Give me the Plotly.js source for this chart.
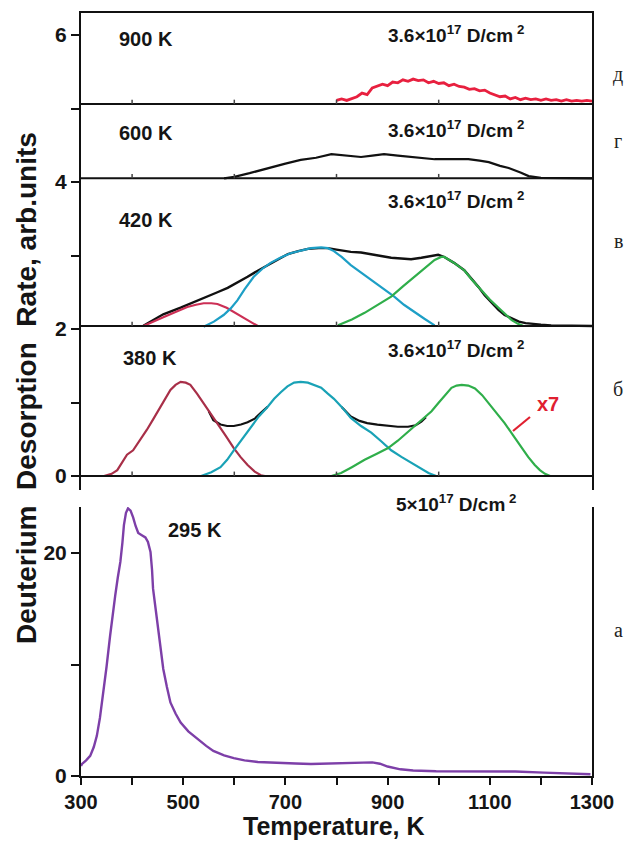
<!DOCTYPE html>
<html>
<head>
<meta charset="utf-8">
<script src="https://cdn.plot.ly/plotly-3.0.1.min.js"></script>
<style>html,body{margin:0;padding:0;background:#fff;}#chart{width:626px;height:841px;}</style>
</head>
<body>
<div id="chart"></div>
<script>
// ---------- data ----------
// Panel "д": 900 K implantation (upper stacked axis units)
const t900 = [800,810,820,830,840,850,860,870,880,890,900,910,920,930,940,950,960,970,980,990,1000,1010,1020,1030,1040,1050,1060,1070,1080,1090,1100,1110,1120,1130,1140,1150,1160,1170,1180,1190,1200,1210,1220,1230,1240,1250,1260,1270,1280,1290,1300];
const r900 = [5.11,5.13,5.11,5.14,5.16,5.21,5.19,5.28,5.30,5.33,5.31,5.36,5.35,5.39,5.37,5.40,5.38,5.39,5.35,5.37,5.34,5.35,5.31,5.33,5.30,5.29,5.26,5.27,5.24,5.25,5.21,5.19,5.16,5.17,5.13,5.15,5.12,5.14,5.12,5.13,5.11,5.13,5.11,5.12,5.10,5.12,5.10,5.11,5.10,5.11,5.10];

// Panel "г": 600 K
const t600 = [580,600,630,665,700,730,760,790,820,848,870,893,920,946,970,992,1020,1058,1080,1098,1120,1137,1160,1176,1200,1250,1300];
const r600 = [4.05,4.07,4.12,4.19,4.25,4.30,4.33,4.38,4.36,4.34,4.36,4.38,4.36,4.34,4.33,4.31,4.31,4.31,4.29,4.27,4.22,4.19,4.13,4.08,4.055,4.05,4.05];

// Panel "в": 420 K (total + three components)
const t420 = [422,440,461,495,520,547,567,587,606,626,645,665,685,705,725,744,765,783,800,828,848,868,890,907,925,946,966,986,999,1011,1030,1050,1065,1078,1090,1104,1117,1129,1143,1157,1170,1182,1200,1220,1247,1270,1300];
const r420 = [2.045,2.12,2.20,2.29,2.36,2.44,2.50,2.56,2.63,2.71,2.79,2.87,2.95,3.02,3.06,3.09,3.10,3.10,3.08,3.05,3.04,3.02,2.99,2.97,2.96,2.95,2.97,2.99,3.01,2.98,2.90,2.80,2.68,2.57,2.46,2.35,2.26,2.19,2.14,2.10,2.08,2.07,2.06,2.05,2.045,2.045,2.04];
const t420a = [422,440,461,485,508,525,540,555,567,585,599,612,626,636,646];
const r420a = [2.04,2.10,2.16,2.23,2.30,2.33,2.35,2.35,2.34,2.29,2.23,2.17,2.12,2.08,2.04];
const t420b = [540,560,579,593,606,620,638,655,671,690,710,730,750,770,783,795,810,828,848,868,890,913,932,952,972,992];
const r420b = [2.03,2.10,2.19,2.28,2.39,2.54,2.71,2.82,2.90,2.97,3.03,3.07,3.10,3.11,3.10,3.06,2.98,2.87,2.77,2.67,2.55,2.44,2.33,2.23,2.14,2.05];
const t420c = [803,830,855,880,907,930,952,972,992,1005,1011,1030,1050,1065,1084,1100,1117,1130,1143,1155,1165];
const r420c = [2.05,2.13,2.22,2.33,2.44,2.58,2.71,2.83,2.94,2.98,2.98,2.90,2.80,2.67,2.53,2.40,2.29,2.20,2.12,2.07,2.045];

// Panel "б": 380 K (three components, total visible in the valleys)
const t380a = [345,360,371,380,390,402,415,429,442,455,465,475,485,495,505,514,527,540,553,567,583,599,612,626,640,652,660];
const r380a = [0.0,0.03,0.08,0.18,0.29,0.35,0.48,0.63,0.78,0.94,1.06,1.17,1.24,1.28,1.27,1.24,1.12,0.99,0.86,0.72,0.55,0.38,0.26,0.15,0.06,0.01,0.0];
const t380b = [535,555,573,586,599,615,632,648,665,678,691,704,717,730,744,757,770,783,795,810,828,848,868,888,907,927,946,963,980,995];
const r380b = [0.0,0.05,0.12,0.22,0.35,0.50,0.67,0.81,0.94,1.05,1.14,1.22,1.27,1.28,1.27,1.24,1.20,1.12,1.05,0.94,0.79,0.68,0.59,0.47,0.35,0.26,0.18,0.10,0.04,0.0];
const t380c = [790,809,830,855,878,901,920,940,956,972,986,999,1012,1025,1035,1045,1058,1071,1085,1098,1114,1129,1145,1162,1175,1188,1198,1208,1218];
const r380c = [0.0,0.04,0.12,0.22,0.30,0.38,0.48,0.60,0.70,0.79,0.88,0.99,1.10,1.20,1.23,1.24,1.23,1.19,1.10,0.99,0.86,0.72,0.56,0.39,0.26,0.15,0.08,0.03,0.0];
const t380v1 = [550,559,573,586,599,613,626,640,652,665];
const r380v1 = [0.88,0.76,0.70,0.68,0.68,0.70,0.73,0.78,0.86,0.94];
const t380v2 = [810,828,845,860,880,900,920,940,955,966,975];
const r380v2 = [0.94,0.81,0.75,0.72,0.70,0.68,0.67,0.67,0.69,0.74,0.80];

// Panel "а": 295 K (lower axis units)
const t295 = [300,302,310,318,325,331,337,343,350,357,362,367,372,377,381,384,388,392,397,402,407,412,419,426,431,436,439,441,446,451,456,461,468,475,485,495,510,528,545,559,580,599,620,646,670,691,720,750,780,810,840,870,885,900,925,950,995,1050,1100,1150,1206,1250,1297];
const r295 = [0.9,1.08,1.4,1.8,2.6,3.6,5.2,7.2,9.8,12.6,14.6,16.2,17.8,19.2,20.9,22.5,23.6,24.0,23.8,23.2,22.4,21.8,21.6,21.4,21.0,20.1,18.5,16.8,15.0,13.2,11.3,9.6,8.0,6.6,5.6,4.8,4.0,3.3,2.7,2.25,1.85,1.6,1.4,1.26,1.2,1.17,1.12,1.08,1.10,1.12,1.18,1.22,1.1,0.85,0.6,0.5,0.43,0.42,0.45,0.40,0.3,0.2,0.16];

// panel baselines on the upper stacked axis, ticks and tick labels
const panelBaselines = [0, 2.04, 4.05, 5.06];
const innerTicks = [400, 600, 800, 1000];
const xTickVals = [300,500,700,900,1100,1300];
const xTickText = ['300','500','700','900','1100','1300'];
const xMinorVals = [400,600,800,1000,1200];
const yUpTickVals = [0,2,4,6];
const yUpTickText = ['0','2','4','6'];
const yUpMinorVals = [1,3,5];
const yLowTickVals = [0,20];
const yLowTickText = ['0','20'];
const yLowMinorVals = [10];

// ---------- layout helpers ----------
const W = 626, H = 841;
const M = {l: 81, r: 34, t: 13, b: 65};
const PW = W - M.l - M.r, PH = H - M.t - M.b;
const px = x => (x - M.l) / PW;
const py = y => (H - M.b - y) / PH;

const FONT = 'Liberation Sans, Arial, Helvetica, sans-serif';
const SERIF = 'Liberation Serif, Times New Roman, serif';

const colPurple = '#7d3fa8';
const colRed900 = '#e8203f';
const colRed420 = '#cc2f55';
const colRed380 = '#a82f48';
const colCyan = '#1d9fc6';
const colTeal = '#19a2b6';
const colGreen = '#2fae4a';
const colBlack = '#111111';

function tr(x, y, color, xa, ya, w) {
  return {x: x, y: y, type: 'scatter', mode: 'lines', xaxis: xa, yaxis: ya,
          line: {color: color, width: w || 2.2}, hoverinfo: 'skip'};
}

const traces = [
  tr(t295, r295, colPurple, 'x', 'y', 2.4),
  tr(t900, r900, colRed900, 'x2', 'y2', 2.8),
  tr(t600, r600, colBlack, 'x2', 'y2', 2.2),
  tr(t420, r420, colBlack, 'x2', 'y2', 2.4),
  tr(t420a, r420a, colRed420, 'x2', 'y2', 2.2),
  tr(t420b, r420b, colCyan, 'x2', 'y2', 2.2),
  tr(t420c, r420c, colGreen, 'x2', 'y2', 2.2),
  tr(t380v1, r380v1, colBlack, 'x2', 'y2', 2.2),
  tr(t380v2, r380v2, colBlack, 'x2', 'y2', 2.2),
  tr(t380a, r380a, colRed380, 'x2', 'y2', 2.2),
  tr(t380b, r380b, colTeal, 'x2', 'y2', 2.2),
  tr(t380c, r380c, colGreen, 'x2', 'y2', 2.2)
];

const shapes = [];
panelBaselines.forEach(b => {
  shapes.push({type: 'line', xref: 'x2 domain', yref: 'y2', x0: 0, x1: 1, y0: b, y1: b,
               line: {color: colBlack, width: 2}});
  innerTicks.forEach(t => {
    shapes.push({type: 'line', xref: 'x2', yref: 'y2', x0: t, x1: t, y0: b, y1: b + 0.06,
                 line: {color: '#444', width: 1.5}});
  });
});
// small red pointer next to "x7"
shapes.push({type: 'line', xref: 'paper', yref: 'paper', x0: px(513), x1: px(530), y0: py(431), y1: py(417),
             line: {color: '#e02030', width: 2.2}});

function ann(text, x, y, size, opts) {
  return Object.assign({text: text, xref: 'paper', yref: 'paper', x: px(x), y: py(y),
    xanchor: 'left', yanchor: 'middle', showarrow: false,
    font: {family: FONT, size: size, color: '#151515', weight: 700}}, opts || {});
}
const dose = '3.6×10<sup>17</sup> D/cm<sup> 2</sup>';
const annotations = [
  ann('900 K', 117, 39, 20),
  ann('600 K', 117, 133, 20),
  ann('420 K', 117, 220, 20),
  ann('380 K', 121, 358, 20),
  ann('295 K', 166, 530, 20),
  ann(dose, 386, 34, 19),
  ann(dose, 386, 129, 19),
  ann(dose, 386, 200, 19),
  ann(dose, 386, 349, 19),
  ann('5×10<sup>17</sup> D/cm<sup> 2</sup>', 394, 503, 19),
  ann('x7', 535, 404, 20, {font: {family: FONT, size: 20, color: '#e02030', weight: 700}}),
  ann('Temperature, K', 334, 841, 25, {xanchor: 'center', yanchor: 'bottom', borderpad: 0}),
  ann('Deuterium  Desorption  Rate, arb.units', 27, 388, 28, {xanchor: 'center', textangle: -90}),
  ann('д', 618, 74, 20, {xanchor: 'center', font: {family: SERIF, size: 20, color: '#222'}}),
  ann('г', 618, 141, 20, {xanchor: 'center', font: {family: SERIF, size: 20, color: '#222'}}),
  ann('в', 618, 241, 20, {xanchor: 'center', font: {family: SERIF, size: 20, color: '#222'}}),
  ann('б', 618, 389, 20, {xanchor: 'center', font: {family: SERIF, size: 20, color: '#222'}}),
  ann('а', 618, 630, 20, {xanchor: 'center', font: {family: SERIF, size: 20, color: '#222'}})
];

const tickFont = {family: FONT, size: 21, color: '#151515', weight: 700};
const xTickFont = {family: FONT, size: 20, color: '#151515', weight: 700};
const minorX = {tickvals: xMinorVals, ticks: 'outside', ticklen: 7, tickwidth: 2, tickcolor: colBlack, showgrid: false};

const layout = {
  width: W, height: H,
  margin: M,
  paper_bgcolor: '#fff', plot_bgcolor: 'rgba(0,0,0,0)',
  showlegend: false,
  xaxis: {domain: [0, 1], anchor: 'y', range: [300, 1300], showgrid: false, zeroline: false,
          showline: true, linecolor: colBlack, linewidth: 2, mirror: false,
          ticks: 'outside', ticklen: 7, tickwidth: 2, tickcolor: colBlack,
          tickvals: xTickVals, ticktext: xTickText, tickfont: xTickFont, minor: minorX},
  yaxis: {domain: [0, py(507)], anchor: 'x', range: [0, (776 - 507) / 11.15], showgrid: false, zeroline: false,
          showline: true, linecolor: colBlack, linewidth: 2, mirror: true,
          ticks: 'outside', ticklen: 8, tickwidth: 2, tickcolor: colBlack,
          tickvals: yLowTickVals, ticktext: yLowTickText, tickfont: tickFont,
          minor: {tickvals: yLowMinorVals, ticks: 'outside', ticklen: 8, tickwidth: 2, tickcolor: colBlack, showgrid: false}},
  xaxis2: {domain: [0, 1], anchor: 'y2', range: [300, 1300], side: 'top', showgrid: false, zeroline: false,
           showline: true, linecolor: colBlack, linewidth: 2, ticks: '', showticklabels: false},
  yaxis2: {domain: [py(490), 1], anchor: 'x2', range: [-14 / 73.5, 463 / 73.5], showgrid: false, zeroline: false,
           showline: true, linecolor: colBlack, linewidth: 2, mirror: true,
           ticks: 'outside', ticklen: 8, tickwidth: 2, tickcolor: colBlack,
           tickvals: yUpTickVals, ticktext: yUpTickText, tickfont: tickFont,
           minor: {tickvals: yUpMinorVals, ticks: 'outside', ticklen: 8, tickwidth: 2, tickcolor: colBlack, showgrid: false}},
  shapes: shapes,
  annotations: annotations
};

Plotly.newPlot('chart', traces, layout, {staticPlot: true, displayModeBar: false});
</script>
</body>
</html>
